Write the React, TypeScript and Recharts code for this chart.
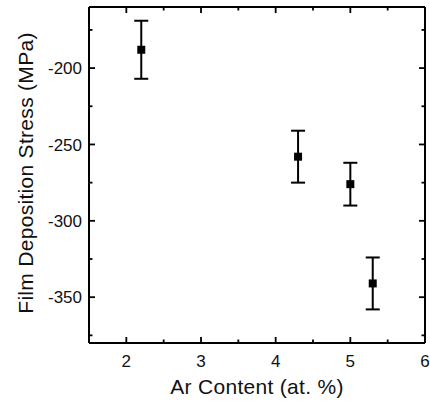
import React from 'react';
import { ScatterChart, Scatter, XAxis, YAxis, ZAxis, ErrorBar, Label } from 'recharts';

const arContent = [2.2, 4.3, 5.0, 5.3];
const stress = [-188, -258, -276, -341];
const stressError = [19, 17, 14, 17];

const xTicks = [2, 2.5, 3, 3.5, 4, 4.5, 5, 5.5, 6];
const xMajorTicks = [2, 3, 4, 5, 6];
const yTicks = [-375, -350, -325, -300, -275, -250, -225, -200, -175];
const yMajorTicks = [-200, -250, -300, -350];

const data = arContent.map((x, i) => ({ x, y: stress[i], err: stressError[i] }));

const FONT = '"Liberation Sans", Arial, sans-serif';
const MAJOR = 6;
const MINOR = 3.5;
const TICK_FONT = 17;
const LABEL_FONT = 21;

const BottomTick = (props: any) => {
  const { x, y, payload } = props;
  const major = xMajorTicks.includes(payload.value);
  return (
    <g>
      <line x1={x} y1={y} x2={x} y2={y - (major ? MAJOR : MINOR)} stroke="#000" strokeWidth={1.8} />
      {major && (
        <text x={x} y={y + 24} textAnchor="middle" fontSize={TICK_FONT} fontFamily={FONT} fill="#111">
          {payload.value}
        </text>
      )}
    </g>
  );
};

const TopTick = (props: any) => {
  const { x, y, payload } = props;
  const major = xMajorTicks.includes(payload.value);
  return <line x1={x} y1={y} x2={x} y2={y + (major ? MAJOR : MINOR)} stroke="#000" strokeWidth={1.8} />;
};

const LeftTick = (props: any) => {
  const { x, y, payload } = props;
  const major = yMajorTicks.includes(payload.value);
  return (
    <g>
      <line x1={x} y1={y} x2={x + (major ? MAJOR : MINOR)} y2={y} stroke="#000" strokeWidth={1.8} />
      {major && (
        <text x={x - 7} y={y} dy="0.36em" textAnchor="end" fontSize={TICK_FONT} fontFamily={FONT} fill="#111">
          {payload.value}
        </text>
      )}
    </g>
  );
};

const RightTick = (props: any) => {
  const { x, y, payload } = props;
  const major = yMajorTicks.includes(payload.value);
  return <line x1={x} y1={y} x2={x - (major ? MAJOR : MINOR)} y2={y} stroke="#000" strokeWidth={1.8} />;
};

const axisLine = { stroke: '#000', strokeWidth: 2 };

export default function App() {
  return (
    <div style={{ position: 'absolute', left: 0, top: 0 }}>
      <ScatterChart width={430} height={403} margin={{ top: 6, right: 4, bottom: 0, left: 0 }}>
        <XAxis
          xAxisId="bottom"
          dataKey="x"
          type="number"
          domain={[1.5, 6]}
          ticks={xTicks}
          interval={0}
          tick={<BottomTick />}
          tickLine={false}
          tickSize={0}
          tickMargin={0}
          axisLine={axisLine}
          height={60}
          allowDataOverflow
        >
          <Label
            content={() => (
              <text x={257} y={394} textAnchor="middle" fontSize={LABEL_FONT} letterSpacing={0.3} fontFamily={FONT} fill="#111">
                Ar Content (at. %)
              </text>
            )}
          />
        </XAxis>
        <XAxis
          xAxisId="top"
          dataKey="x"
          orientation="top"
          type="number"
          domain={[1.5, 6]}
          ticks={xTicks}
          interval={0}
          tick={<TopTick />}
          tickLine={false}
          tickSize={0}
          tickMargin={0}
          axisLine={axisLine}
          height={1}
          allowDataOverflow
        />
        <YAxis
          yAxisId="left"
          dataKey="y"
          type="number"
          domain={[-380, -160]}
          ticks={yTicks}
          interval={0}
          tick={<LeftTick />}
          tickLine={false}
          tickSize={0}
          tickMargin={0}
          axisLine={axisLine}
          width={89}
          allowDataOverflow
        >
          <Label
            content={() => (
              <text
                transform="translate(33,173) rotate(-90)"
                textAnchor="middle"
                fontSize={LABEL_FONT}
                letterSpacing={0.3}
                fontFamily={FONT}
                fill="#111"
              >
                Film Deposition Stress (MPa)
              </text>
            )}
          />
        </YAxis>
        <YAxis
          yAxisId="right"
          dataKey="y"
          orientation="right"
          type="number"
          domain={[-380, -160]}
          ticks={yTicks}
          interval={0}
          tick={<RightTick />}
          tickLine={false}
          tickSize={0}
          tickMargin={0}
          axisLine={axisLine}
          width={1}
          allowDataOverflow
        />
        <ZAxis range={[72, 72]} />
        <Scatter
          data={data}
          xAxisId="top"
          yAxisId="right"
          shape={() => <g />}
          isAnimationActive={false}
        />
        <Scatter
          data={data}
          xAxisId="bottom"
          yAxisId="left"
          shape="square"
          fill="#000"
          isAnimationActive={false}
        >
          <ErrorBar dataKey="err" direction="y" width={7} stroke="#000" strokeWidth={2} />
        </Scatter>
      </ScatterChart>
    </div>
  );
}
